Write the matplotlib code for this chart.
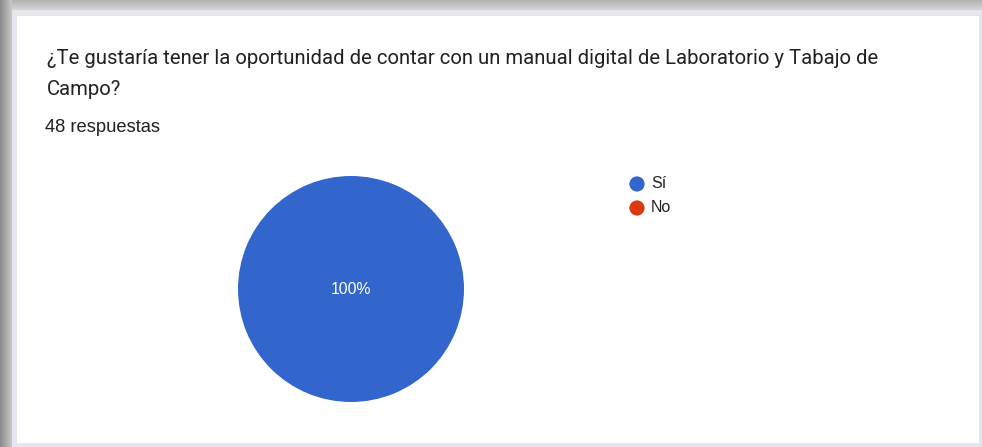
import numpy as np
import matplotlib
matplotlib.use("Agg")
import matplotlib.pyplot as plt
from matplotlib.patches import Rectangle

# Survey results
question = ["¿Te gustaría tener la oportunidad de contar con un manual digital de Laboratorio y Tabajo de",
            "Campo?"]
categories = ["Sí", "No"]
counts = [48, 0]
colors = ["#3366cc", "#dc3912"]

W, H = 982, 447
fig = plt.figure(figsize=(W / 100, H / 100), dpi=100)
fig.patch.set_facecolor("white")

# Background layer in pixel coordinates (origin top-left)
bg = fig.add_axes([0, 0, 1, 1])
bg.set_xlim(0, W)
bg.set_ylim(H, 0)
bg.axis("off")

# Window shadow: gradient along the top and the left edge
top = np.linspace(0.70, 0.86, 12)[:, None] * np.ones((1, W))
bg.imshow(np.dstack([top] * 3), extent=(0, W, 12, 0), aspect="auto", zorder=0)
left = np.linspace(0.55, 0.78, 12)[None, :] * np.ones((H, 1))
bg.imshow(np.dstack([left] * 3), extent=(0, 12, H, 0), aspect="auto", zorder=1)
bg.set_xlim(0, W)
bg.set_ylim(H, 0)

# Card with a light border
bg.add_patch(Rectangle((12, 10), W - 12, H - 10, facecolor="#e6e6f0", edgecolor="none", zorder=2))
bg.add_patch(Rectangle((17, 16), W - 20, H - 20, facecolor="white", edgecolor="none", zorder=3))

# Header texts
bg.text(47, 64, question[0], fontsize=14.6, family=["Roboto", "DejaVu Sans"],
        color="#202124", va="baseline", ha="left", zorder=5)
bg.text(47, 95, question[1], fontsize=14.6, family=["Roboto", "DejaVu Sans"],
        color="#202124", va="baseline", ha="left", zorder=5)
total = sum(counts)
bg.text(45, 132, f"{total} respuestas", fontsize=13.2, family=["Liberation Sans", "DejaVu Sans"],
        color="#202124", va="baseline", ha="left", zorder=5)

# Pie chart
cx, cy, r = 351, 289, 113
pie_ax = fig.add_axes([(cx - r) / W, (H - cy - r) / H, 2 * r / W, 2 * r / H])
nonzero = [(c, col) for c, col in zip(counts, colors) if c > 0]
pie_ax.pie([c for c, _ in nonzero], colors=[col for _, col in nonzero], startangle=90,
           counterclock=False, wedgeprops=dict(linewidth=0))
pie_ax.set_aspect("equal")
pie_ax.set_xlim(-1, 1)
pie_ax.set_ylim(-1, 1)
share = counts[0] / total * 100
pie_ax.text(0, 0, f"{share:.0f}%", ha="center", va="center", color="white",
            fontsize=11.3, family=["Liberation Sans", "DejaVu Sans"])

# Legend
for i, (cat, col) in enumerate(zip(categories, colors)):
    y = 184 + i * 24
    bg.scatter([637], [y], s=120, color=col, edgecolors="none", zorder=6)
    bg.text(651, y, cat, fontsize=11.5, family=["Liberation Sans", "DejaVu Sans"],
            color="#222222", va="center", ha="left", zorder=6)

fig.savefig("out.png", dpi=100)
